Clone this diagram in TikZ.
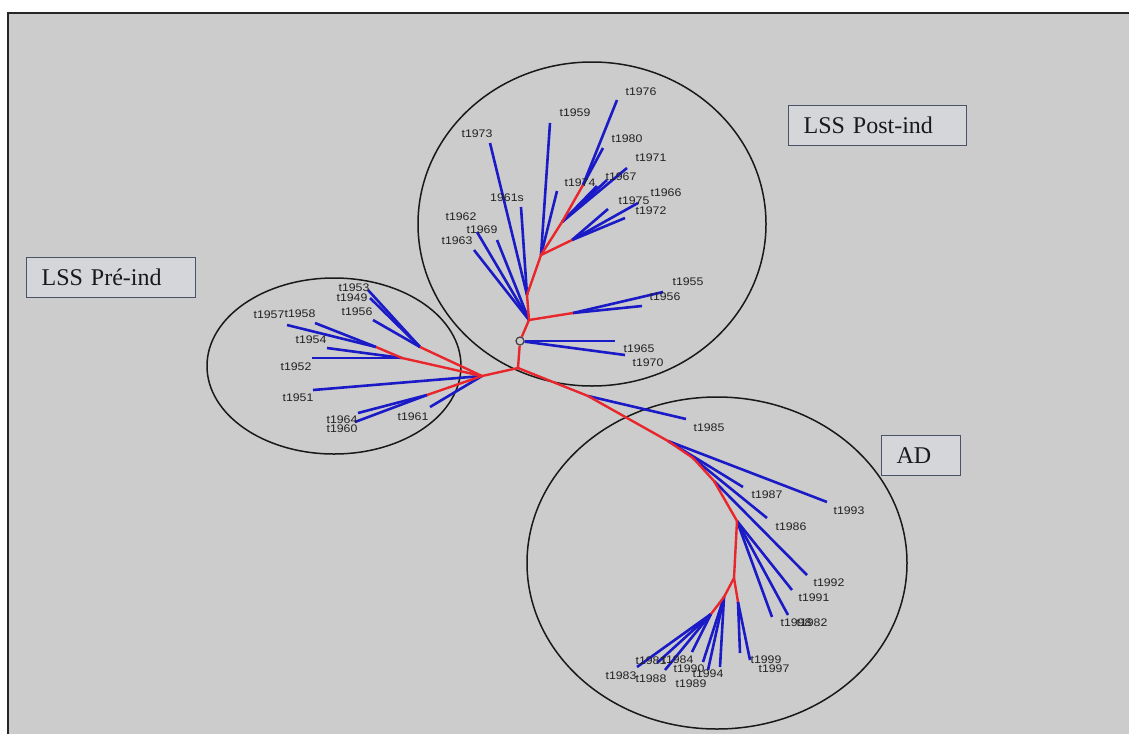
\documentclass[tikz,border=0pt]{standalone}
\usepackage{fontspec}
\newfontfamily\lblfont[FakeStretch=1.12]{Liberation Sans}
\newfontfamily\boxfont{Liberation Serif}
\definecolor{bg}{HTML}{CCCCCC}
\definecolor{leafblue}{HTML}{1A1AC6}
\definecolor{branchred}{HTML}{E8262C}
\definecolor{boxfill}{HTML}{D5D6DA}
\definecolor{boxline}{HTML}{4A5268}
\definecolor{lbl}{HTML}{222222}
\begin{document}
\begin{tikzpicture}[x=1pt,y=-1pt,
 leaf/.style={draw=leafblue, line width=2.6pt},
 branch/.style={draw=branchred, line width=2.4pt, line join=round},
 lab/.style={font=\lblfont\fontsize{11}{11}\selectfont, text=lbl, inner sep=0pt},
 clade/.style={draw=black!90, line width=1.5pt},
 tag/.style={draw=boxline, fill=boxfill, line width=1.2pt, font=\boxfont\fontsize{24}{24}\selectfont, text=black!90, align=left, anchor=north west, inner xsep=15pt, inner ysep=0pt, minimum height=40pt}
]
\useasboundingbox (0,0) rectangle (1129,734);
\fill[white] (0,0) rectangle (1129,734);
\fill[bg] (8,13) rectangle (1129,734);
\draw[black!85, line width=2pt] (8,734) -- (8,13) -- (1129,13);

% clade outlines
\draw[clade] (592,224) ellipse [x radius=174pt, y radius=162pt];
\draw[clade] (334,366) ellipse [x radius=127pt, y radius=88pt];
\draw[clade] (717,563) ellipse [x radius=190pt, y radius=166pt];

% boxes
\node[tag, text width=148pt] (post) at (788,105) {LSS Post-ind};
\node[tag, text width=139pt] (pre) at (26,257) {LSS Pré-ind};
\node[tag, text width=49pt] (ad) at (881,435) {AD};

% internal points
\coordinate (r0) at (518,368);
\node[circle, draw=black!75, line width=1.2pt, minimum size=8pt, inner sep=0pt] (knot) at (520,341) {};
\coordinate (p1) at (529,320);
\coordinate (p1a) at (527,295);
\coordinate (p2) at (541,255);
\coordinate (p4) at (562,222);
\coordinate (p3) at (583,185);
\coordinate (p5) at (572,240);
\coordinate (pr) at (573,313);
\coordinate (l0) at (482,376);
\coordinate (la) at (420,347);
\coordinate (lb) at (402,358);
\coordinate (lc) at (376,347);
\coordinate (ld) at (427,395);
\coordinate (a1) at (588,396);
\coordinate (a2) at (668,441);
\coordinate (a2b) at (693,458);
\coordinate (a3) at (714,481);
\coordinate (a4) at (737,521);
\coordinate (a5) at (734,578);
\coordinate (a6) at (724,597);
\coordinate (a7) at (711,614);
\coordinate (a8) at (738,602);

% leaf ends
\coordinate (e1976) at (617,100);
\coordinate (e1980) at (603,148);
\coordinate (e1974) at (597,186);
\coordinate (e1971) at (627,168);
\coordinate (e1967) at (607,180);
\coordinate (e1966) at (638,203);
\coordinate (e1975) at (608,209);
\coordinate (e1972) at (625,218);
\coordinate (e1959) at (550,123);
\coordinate (e1959b) at (557,191);
\coordinate (e1973) at (490,143);
\coordinate (e1961s) at (521,207);
\coordinate (e1962) at (477,232);
\coordinate (e1969) at (497,240);
\coordinate (e1963) at (474,250);
\coordinate (e1955) at (663,292);
\coordinate (e1956) at (642,306);
\coordinate (e1965) at (615,341);
\coordinate (e1970) at (625,355);
\coordinate (f1953) at (368,290);
\coordinate (f1949) at (370,298);
\coordinate (f1956) at (373,320);
\coordinate (f1957) at (287,325);
\coordinate (f1958) at (315,323);
\coordinate (f1954) at (327,348);
\coordinate (f1952) at (312,358);
\coordinate (f1951) at (313,390);
\coordinate (f1964) at (358,413);
\coordinate (f1960) at (355,422);
\coordinate (f1961) at (430,407);
\coordinate (g1985) at (686,419);
\coordinate (g1993) at (827,502);
\coordinate (g1987) at (743,487);
\coordinate (g1986) at (767,518);
\coordinate (g1992) at (807,575);
\coordinate (g1991) at (792,590);
\coordinate (g1998) at (788,615);
\coordinate (g1982) at (772,617);
\coordinate (g1983) at (637,667);
\coordinate (g1981) at (657,663);
\coordinate (g1988) at (665,670);
\coordinate (g1984) at (692,652);
\coordinate (g1990) at (703,662);
\coordinate (g1989) at (708,670);
\coordinate (g1994) at (720,667);
\coordinate (g1999) at (740,653);
\coordinate (g1997) at (750,660);

% leaves (blue)
\foreach \a/\b in {p3/e1976, p3/e1980, p4/e1974, p4/e1971, p4/e1967,
  p5/e1966, p5/e1975, p5/e1972, p2/e1959, p2/e1959b, p1a/e1973, p1a/e1961s,
  p1/e1962, p1/e1969, p1/e1963, pr/e1955, pr/e1956, knot/e1965, knot/e1970,
  la/f1953, la/f1949, la/f1956, lc/f1957, lc/f1958, lb/f1954, lb/f1952,
  l0/f1951, ld/f1964, ld/f1960, l0/f1961,
  a1/g1985, a2/g1993, a2/g1987, a2b/g1986, a3/g1992, a4/g1991, a4/g1998, a4/g1982,
  a7/g1983, a7/g1981, a7/g1988, a7/g1984, a6/g1990, a6/g1989, a6/g1994,
  a8/g1999, a8/g1997}
  \draw[leaf] (\a) -- (\b);

% internal branches (red)
\draw[branch] (r0) -- (knot);
\draw[branch] (knot) -- (p1) -- (p1a) -- (p2) -- (p4) -- (p3);
\draw[branch] (p1) -- (pr);
\draw[branch] (p2) -- (p5);
\draw[branch] (r0) -- (l0) -- (la);
\draw[branch] (l0) -- (lb) -- (lc);
\draw[branch] (l0) -- (ld);
\draw[branch] (r0) -- (a1) -- (a2) -- (a2b) -- (a3) -- (a4) -- (a5) -- (a6) -- (a7);
\draw[branch] (a5) -- (a8);

% labels
\node[lab] (n1976) at (641,92) {t1976};
\node[lab] (n1959) at (575,113) {t1959};
\node[lab] (n1973) at (477,134) {t1973};
\node[lab] (n1980) at (627,139) {t1980};
\node[lab] (n1971) at (651,158) {t1971};
\node[lab] (n1974) at (580,183) {t1974};
\node[lab] (n1967) at (621,177) {t1967};
\node[lab] (n1966) at (666,193) {t1966};
\node[lab] (n1975) at (634,201) {t1975};
\node[lab] (n1972) at (651,211) {t1972};
\node[lab] (n1961s) at (507,198) {1961s};
\node[lab] (n1962) at (461,217) {t1962};
\node[lab] (n1969) at (482,230) {t1969};
\node[lab] (n1963) at (457,241) {t1963};
\node[lab] (n1955) at (688,282) {t1955};
\node[lab] (n1956) at (665,297) {t1956};
\node[lab] (n1965) at (639,349) {t1965};
\node[lab] (n1970) at (648,363) {t1970};
\node[lab] (m1953) at (354,288) {t1953};
\node[lab] (m1949) at (352,298) {t1949};
\node[lab] (m1956) at (357,312) {t1956};
\node[lab] (m1957) at (269,315) {t1957};
\node[lab] (m1958) at (300,314) {t1958};
\node[lab] (m1954) at (311,340) {t1954};
\node[lab] (m1952) at (296,367) {t1952};
\node[lab] (m1951) at (298,398) {t1951};
\node[lab] (m1964) at (342,420) {t1964};
\node[lab] (m1960) at (342,429) {t1960};
\node[lab] (m1961) at (413,417) {t1961};
\node[lab] (k1985) at (709,428) {t1985};
\node[lab] (k1993) at (849,511) {t1993};
\node[lab] (k1987) at (767,495) {t1987};
\node[lab] (k1986) at (791,527) {t1986};
\node[lab] (k1992) at (829,583) {t1992};
\node[lab] (k1991) at (814,598) {t1991};
\node[lab] (k1998) at (796,623) {t1998};
\node[lab] (k1982) at (812,623) {t1982};
\node[lab] (k1981) at (651,661) {t1981};
\node[lab] (k1984) at (678,660) {t1984};
\node[lab] (k1983) at (621,676) {t1983};
\node[lab] (k1988) at (651,679) {t1988};
\node[lab] (k1990) at (689,669) {t1990};
\node[lab] (k1994) at (708,674) {t1994};
\node[lab] (k1989) at (691,684) {t1989};
\node[lab] (k1999) at (766,660) {t1999};
\node[lab] (k1997) at (774,669) {t1997};
\end{tikzpicture}
\end{document}
